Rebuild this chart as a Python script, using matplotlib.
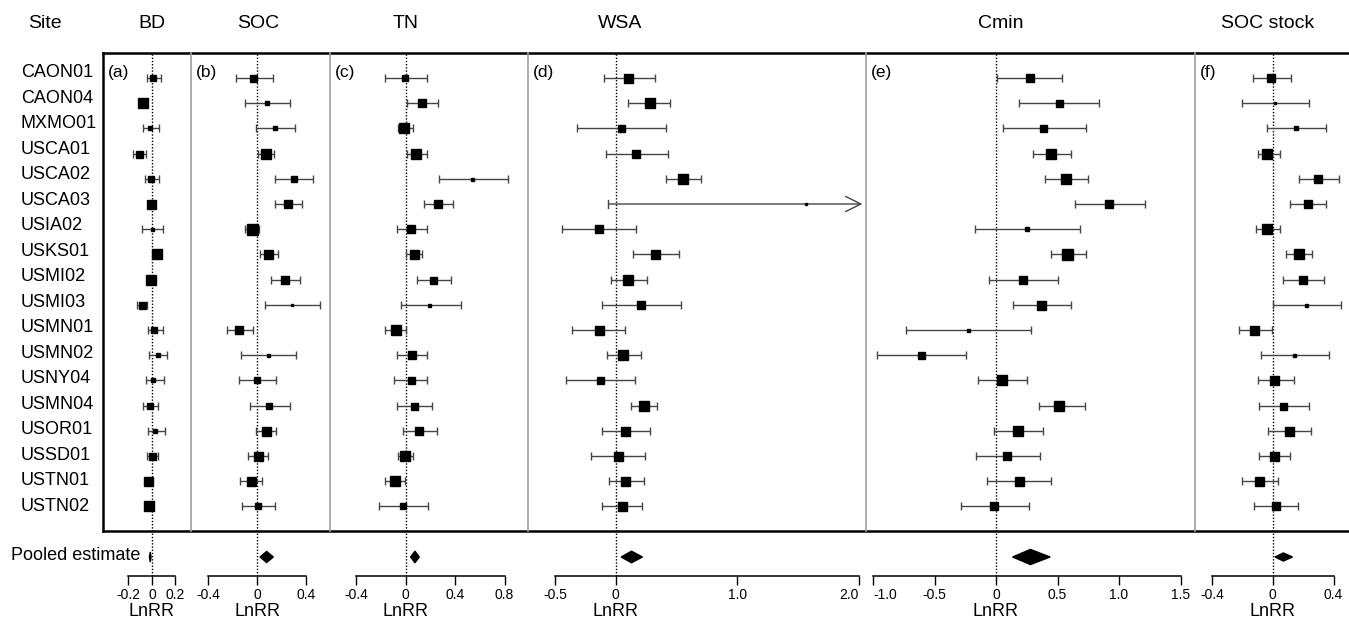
import matplotlib
matplotlib.use("Agg")
import matplotlib.pyplot as plt
from matplotlib.lines import Line2D
from matplotlib.transforms import blended_transform_factory

plt.rcParams['font.family'] = ['Liberation Sans', 'DejaVu Sans']

# ---------------- data ----------------
sites = ["CAON01", "CAON04", "MXMO01", "USCA01", "USCA02", "USCA03", "USIA02",
         "USKS01", "USMI02", "USMI03", "USMN01", "USMN02", "USNY04", "USMN04",
         "USOR01", "USSD01", "USTN01", "USTN02"]

bd_mean = [0.006, -0.074, -0.017, -0.113, -0.011, -0.006, 0.0, 0.045, -0.011, -0.088,
           0.017, 0.048, 0.011, -0.017, 0.026, -0.003, -0.031, -0.023]
bd_lo = [-0.045, -0.10, -0.08, -0.16, -0.06, -0.03, -0.088, 0.02, -0.035, -0.13,
         -0.037, -0.026, -0.054, -0.074, -0.037, -0.045, -0.055, -0.045]
bd_hi = [0.077, -0.05, 0.06, -0.05, 0.06, 0.018, 0.096, 0.07, 0.013, -0.045,
         0.096, 0.125, 0.10, 0.054, 0.11, 0.048, -0.007, 0.0]
bd_w = [6, 10, 5, 7, 6, 9, 3, 10, 10, 7, 6, 5, 5, 6, 5, 7, 9, 10]
bd_pool = [-0.015, -0.022, -0.008]

soc_mean = [-0.03, 0.079, 0.15, 0.071, 0.30, 0.25, -0.044, 0.093, 0.23, 0.29,
            -0.145, 0.087, 0.0, 0.10, 0.071, 0.005, -0.05, 0.011]
soc_lo = [-0.17, -0.10, -0.008, 0.011, 0.15, 0.15, -0.10, 0.025, 0.115, 0.066,
          -0.25, -0.13, -0.15, -0.057, -0.008, -0.07, -0.14, -0.12]
soc_hi = [0.13, 0.27, 0.31, 0.14, 0.46, 0.37, 0.02, 0.175, 0.35, 0.52,
          -0.03, 0.32, 0.155, 0.27, 0.155, 0.093, 0.043, 0.15]
soc_w = [7, 4, 5, 10, 6, 8, 11, 9, 8, 2, 8, 3, 6, 6, 9, 9, 9, 6]
soc_pool = [0.079, 0.025, 0.134]

tn_mean = [-0.005, 0.135, -0.014, 0.083, 0.54, 0.26, 0.043, 0.067, 0.22, 0.19,
           -0.078, 0.048, 0.043, 0.067, 0.107, -0.006, -0.084, -0.024]
tn_lo = [-0.17, 0.013, -0.065, 0.008, 0.27, 0.15, -0.073, 0.0, 0.094, -0.04,
         -0.167, -0.068, -0.094, -0.073, -0.024, -0.065, -0.167, -0.215]
tn_hi = [0.17, 0.26, 0.056, 0.17, 0.83, 0.38, 0.17, 0.135, 0.365, 0.446,
         0.0, 0.174, 0.174, 0.215, 0.255, 0.056, -0.005, 0.18]
tn_w = [6, 8, 10, 10, 3, 8, 8, 9, 7, 3, 10, 8, 7, 7, 8, 10, 10, 6]
tn_pool = [0.075, 0.04, 0.11]

wsa_mean = [0.104, 0.28, 0.04, 0.165, 0.55, 1.57, -0.14, 0.32, 0.10, 0.21,
            -0.14, 0.063, -0.13, 0.23, 0.08, 0.016, 0.08, 0.055]
wsa_lo = [-0.10, 0.10, -0.32, -0.08, 0.41, -0.06, -0.44, 0.145, -0.04, -0.11,
          -0.36, -0.074, -0.41, 0.125, -0.11, -0.20, -0.055, -0.11]
wsa_hi = [0.32, 0.45, 0.41, 0.43, 0.70, 2.30, 0.17, 0.52, 0.255, 0.535,
          0.08, 0.21, 0.16, 0.34, 0.28, 0.24, 0.23, 0.22]
wsa_w = [9, 10, 7, 8, 10, 2, 8, 9, 10, 8, 9, 10, 7, 10, 9, 9, 9, 9]
wsa_pool = [0.13, 0.045, 0.22]

cmin_mean = [0.276, 0.51, 0.385, 0.445, 0.57, 0.92, 0.25, 0.58, 0.22, 0.366,
             -0.225, -0.61, 0.046, 0.515, 0.175, 0.09, 0.19, -0.014]
cmin_lo = [0.01, 0.19, 0.06, 0.30, 0.40, 0.64, -0.17, 0.445, -0.057, 0.135,
           -0.73, -0.965, -0.15, 0.35, -0.014, -0.16, -0.07, -0.285]
cmin_hi = [0.54, 0.84, 0.73, 0.61, 0.75, 1.21, 0.68, 0.73, 0.50, 0.61,
           0.285, -0.245, 0.25, 0.72, 0.38, 0.36, 0.45, 0.27]
cmin_w = [8, 7, 7, 10, 10, 8, 5, 11, 8, 9, 3, 7, 10, 10, 10, 8, 9, 8]
cmin_pool = [0.28, 0.135, 0.44]

stock_mean = [-0.013, 0.015, 0.15, -0.035, 0.30, 0.23, -0.035, 0.17, 0.20, 0.22,
              -0.123, 0.14, 0.011, 0.066, 0.107, 0.011, -0.088, 0.022]
stock_lo = [-0.13, -0.20, -0.035, -0.10, 0.175, 0.115, -0.11, 0.085, 0.066, 0.0,
            -0.225, -0.08, -0.10, -0.088, -0.03, -0.088, -0.20, -0.12]
stock_hi = [0.12, 0.24, 0.35, 0.045, 0.435, 0.35, 0.045, 0.26, 0.34, 0.45,
            -0.003, 0.37, 0.14, 0.24, 0.25, 0.115, 0.037, 0.165]
stock_w = [8, 2, 5, 10, 8, 8, 10, 10, 8, 3, 9, 3, 9, 7, 9, 9, 9, 8]
stock_pool = [0.07, 0.015, 0.13]

titles = ["BD", "SOC", "TN", "WSA", "Cmin", "SOC stock"]
panel_tags = ["(a)", "(b)", "(c)", "(d)", "(e)", "(f)"]
ticks = [[-0.2, 0, 0.2], [-0.4, 0, 0.4], [-0.4, 0, 0.4, 0.8], [-0.5, 0, 1.0, 2.0],
         [-1.0, -0.5, 0, 0.5, 1.0, 1.5], [-0.4, 0, 0.4]]
tick_labels = [["-0.2", "0", "0.2"], ["-0.4", "0", "0.4"], ["-0.4", "0", "0.4", "0.8"],
               ["-0.5", "0", "1.0", "2.0"], ["-1.0", "-0.5", "0", "0.5", "1.0", "1.5"],
               ["-0.4", "0", "0.4"]]

means = [bd_mean, soc_mean, tn_mean, wsa_mean, cmin_mean, stock_mean]
los = [bd_lo, soc_lo, tn_lo, wsa_lo, cmin_lo, stock_lo]
his = [bd_hi, soc_hi, tn_hi, wsa_hi, cmin_hi, stock_hi]
ws = [bd_w, soc_w, tn_w, wsa_w, cmin_w, stock_w]
pools = [bd_pool, soc_pool, tn_pool, wsa_pool, cmin_pool, stock_pool]

# ---------------- layout (pixels) ----------------
W, H = 1349, 622
edges = [103, 191, 330, 528, 866, 1195, 1349]
zeros = [152, 257, 405.7, 615.7, 996, 1272.7]
scales = [117.5, 122, 123.5, 121.5, 123, 152]
pool_half_h = [0.2, 0.22, 0.23, 0.23, 0.3, 0.16]
title_off = [0, 1, 0, 4, 5, -5]
TOP, AXB, BOXB = 53, 576, 531
ROW0, DY = 78, 25.2


def fx(p):
    return p / W


def fy(p):
    return 1 - p / H


def row(p):
    return (p - ROW0) / DY


fig = plt.figure(figsize=(W / 100, H / 100), dpi=100)
ebc = '#454545'

for k in range(6):
    l, r, z, s = edges[k], edges[k + 1], zeros[k], scales[k]
    ax = fig.add_axes([fx(l), fy(AXB), fx(r) - fx(l), (AXB - TOP) / H])
    xmin, xmax = (l - z) / s, (r - z) / s
    ax.set_xlim(xmin, xmax)
    ax.set_ylim(row(AXB), row(TOP))
    ax.patch.set_visible(False)
    for sp in ['top', 'right', 'left']:
        ax.spines[sp].set_visible(False)
    ax.spines['bottom'].set_bounds(ticks[k][0], ticks[k][-1])
    ax.spines['bottom'].set_linewidth(1.1)
    ax.set_xticks(ticks[k])
    labs = ax.set_xticklabels(tick_labels[k])
    ax.tick_params(axis='x', direction='out', length=6.5, width=1.0, pad=2,
                   labelsize=10)
    if k == 3:
        labs[-1].set_horizontalalignment('right')
    if k == 4:
        labs[0].set_horizontalalignment('left')
    ax.set_yticks([])
    ax.axvline(0, color='black', lw=1.0, ls=(0, (1, 1.3)), zorder=1)

    m, lo, hi, w = means[k], los[k], his[k], ws[k]
    for i in range(len(sites)):
        if hi[i] > xmax:
            end = xmax - 0.03
            ax.annotate('', xy=(end, i), xytext=(lo[i], i),
                        arrowprops=dict(arrowstyle='->,head_length=1.1,head_width=0.55',
                                        color=ebc, lw=1.0, shrinkA=0, shrinkB=0))
            ax.plot([lo[i], lo[i]], [i - 0.16, i + 0.16], color=ebc, lw=1.0)
        else:
            ax.errorbar(m[i], i, xerr=[[m[i] - lo[i]], [hi[i] - m[i]]], fmt='none',
                        ecolor=ebc, elinewidth=1.0, capsize=2.9, capthick=1.0, zorder=2)
        ax.plot(m[i], i, marker='s', ms=w[i] * 0.72, color='black', ls='none', zorder=3)

    pm, plo, phi = pools[k]
    ph = pool_half_h[k]
    yp = row(557)
    ax.fill([plo, pm, phi, pm], [yp, yp - ph, yp, yp + ph], color='black', zorder=3)

    ax.text(0, row(612), "LnRR", ha='center', va='center', fontsize=13, clip_on=False)
    fig.text(fx(z + title_off[k]), fy(23), titles[k], ha='center', va='center', fontsize=14)
    tr = blended_transform_factory(fig.transFigure, ax.transData)
    ax.text(fx(l + 5), row(73), panel_tags[k], transform=tr, ha='left', va='center',
            fontsize=12.5)

    if k == 0:
        for i, name in enumerate(sites):
            ax.text(fx(21), row(73 + 25.5 * i), name, transform=tr, ha='left',
                    va='center', fontsize=13, clip_on=False)
        ax.text(fx(11), row(555), "Pooled estimate", transform=tr, ha='left',
                va='center', fontsize=13, clip_on=False)

fig.text(fx(45), fy(23), "Site", ha='center', va='center', fontsize=14)

# box lines
fig.add_artist(Line2D([fx(103), fx(W)], [fy(TOP), fy(TOP)], lw=1.8, color='black'))
fig.add_artist(Line2D([fx(103), fx(W)], [fy(BOXB), fy(BOXB)], lw=1.8, color='black'))
fig.add_artist(Line2D([fx(103), fx(103)], [fy(TOP), fy(BOXB)], lw=1.8, color='black'))
for xd in edges[1:-1]:
    fig.add_artist(Line2D([fx(xd), fx(xd)], [fy(TOP), fy(BOXB)], lw=1.2, color='#a0a0a0'))

fig.savefig("out.png", dpi=100)
